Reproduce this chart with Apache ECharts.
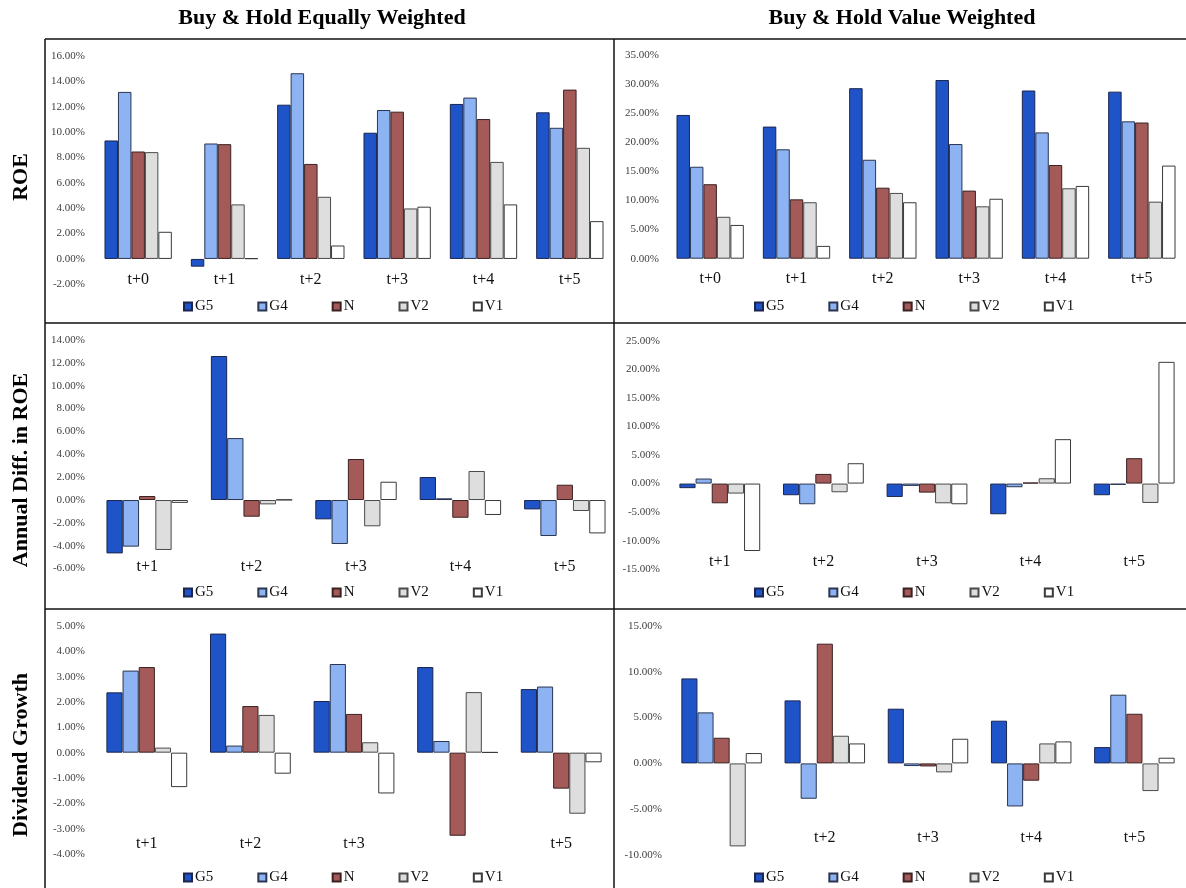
<!DOCTYPE html>
<html>
<head>
<meta charset="utf-8">
<script src="https://cdn.jsdelivr.net/npm/echarts@6/dist/echarts.min.js"></script>
<style>
html,body{margin:0;padding:0;background:#fff;}
#c{width:1186px;height:888px;}
</style>
</head>
<body>
<div id="c"></div>
<script>
// ---------- data ----------
const seriesNames = ['G5', 'G4', 'N', 'V2', 'V1'];
const catsROE = ['t+0', 't+1', 't+2', 't+3', 't+4', 't+5'];
const cats5 = ['t+1', 't+2', 't+3', 't+4', 't+5'];

// ROE, Buy & Hold Equally Weighted (%)
const roeEW_G5 = [9.34, -0.61, 12.16, 9.95, 12.22, 11.56];
const roeEW_G4 = [13.17, 9.10, 14.64, 11.74, 12.72, 10.34];
const roeEW_N  = [8.47, 9.05, 7.49, 11.61, 11.03, 13.35];
const roeEW_V2 = [8.42, 4.30, 4.90, 3.98, 7.65, 8.76];
const roeEW_V1 = [2.14, 0.05, 1.06, 4.12, 4.30, 2.98];

// ROE, Buy & Hold Value Weighted (%)
const roeVW_G5 = [24.7, 22.7, 29.3, 30.7, 28.9, 28.7];
const roeVW_G4 = [15.8, 18.8, 17.0, 19.7, 21.7, 23.6];
const roeVW_N  = [12.8, 10.2, 12.2, 11.7, 16.1, 23.4];
const roeVW_V2 = [7.2, 9.7, 11.3, 9.0, 12.1, 9.8];
const roeVW_V1 = [5.8, 2.2, 9.7, 10.3, 12.5, 16.0];

// Annual Diff. in ROE, Equally Weighted (%)
const adEW_G5 = [-4.67, 12.60, -1.69, 2.01, -0.82];
const adEW_G4 = [-4.08, 5.42, -3.85, 0.15, -3.15];
const adEW_N  = [0.35, -1.46, 3.59, -1.55, 1.34];
const adEW_V2 = [-4.37, -0.38, -2.30, 2.54, -0.96];
const adEW_V1 = [-0.25, 0.03, 1.60, -1.31, -2.92];

// Annual Diff. in ROE, Value Weighted (%)
const adVW_G5 = [-0.80, -2.04, -2.34, -5.37, -2.04];
const adVW_G4 = [0.88, -3.62, -0.41, -0.64, -0.23];
const adVW_N  = [-3.45, 1.69, -1.58, 0.18, 4.44];
const adVW_V2 = [-1.75, -1.52, -3.45, 0.93, -3.39];
const adVW_V1 = [-11.80, 3.56, -3.62, 7.77, 21.30];

// Dividend Growth, Equally Weighted (%)
const dgEW_G5 = [2.38, 4.70, 2.04, 3.38, 2.51];
const dgEW_G4 = [3.24, 0.28, 3.50, 0.46, 2.61];
const dgEW_N  = [3.38, 1.84, 1.53, -3.28, -1.42];
const dgEW_V2 = [0.20, 1.49, 0.41, 2.39, -2.41];
const dgEW_V1 = [-1.36, -0.83, -1.61, 0.02, -0.38];

// Dividend Growth, Value Weighted (%)
const dgVW_G5 = [9.28, 6.88, 5.97, 4.66, 1.78];
const dgVW_G4 = [5.57, -3.86, -0.29, -4.70, 7.50];
const dgVW_N  = [2.80, 13.07, -0.33, -1.89, 5.42];
const dgVW_V2 = [-9.06, 3.02, -0.98, 2.18, -3.02];
const dgVW_V1 = [1.13, 2.18, 2.69, 2.40, 0.62];

const colTitles = ['Buy & Hold Equally Weighted', 'Buy & Hold Value Weighted'];
const rowTitles = ['ROE', 'Annual Diff. in ROE', 'Dividend Growth'];

// ---------- layout / style ----------
const FONT = '"Liberation Serif", "Times New Roman", serif';
const colors = ['#1F54C8', '#8DB3F2', '#A35A58', '#DEDEDE', '#FFFFFF'];
const borderColors = ['#1B2550', '#2A3550', '#3A2222', '#4A4A4A', '#3A3A3A'];

const panels = [
  {cats: catsROE, data: [roeEW_G5, roeEW_G4, roeEW_N, roeEW_V2, roeEW_V1],
   left: 95, width: 518, top: 56, height: 228.3, min: -2, max: 16, interval: 2, lblMargin: -5, ylblMargin: 10,
   legendLeft: 183, legendTop: 299, hide: []},
  {cats: catsROE, data: [roeVW_G5, roeVW_G4, roeVW_N, roeVW_V2, roeVW_V1],
   left: 667, width: 518, top: 55, height: 203.7, min: 0, max: 35, interval: 5, lblMargin: 20.5, ylblMargin: 8,
   legendLeft: 754, legendTop: 299, hide: []},
  {cats: cats5, data: [adEW_G5, adEW_G4, adEW_N, adEW_V2, adEW_V1],
   left: 95, width: 522, top: 340, height: 228.6, min: -6, max: 14, interval: 2, lblMargin: -2, ylblMargin: 10,
   legendLeft: 183, legendTop: 585, hide: []},
  {cats: cats5, data: [adVW_G5, adVW_G4, adVW_N, adVW_V2, adVW_V1],
   left: 668, width: 522, top: 340.7, height: 228.6, min: -15, max: 25, interval: 5, lblMargin: -7.5, ylblMargin: 8,
   legendLeft: 754, legendTop: 585, hide: []},
  {cats: cats5, data: [dgEW_G5, dgEW_G4, dgEW_N, dgEW_V2, dgEW_V1],
   left: 95, width: 518, top: 626, height: 228, min: -4, max: 5, interval: 1, lblMargin: -10.5, ylblMargin: 10,
   legendLeft: 183, legendTop: 870, hide: ['t+4']},
  {cats: cats5, data: [dgVW_G5, dgVW_G4, dgVW_N, dgVW_V2, dgVW_V1],
   left: 670, width: 520, top: 626, height: 229, min: -10, max: 15, interval: 5, lblMargin: -17.5, ylblMargin: 8,
   legendLeft: 754, legendTop: 870, hide: ['t+1']}
];

const grid = [], xAxis = [], yAxis = [], series = [], legend = [];
panels.forEach((p, i) => {
  grid.push({left: p.left, top: p.top, width: p.width, height: p.height, containLabel: false});
  xAxis.push({
    type: 'category', gridIndex: i, position: 'bottom',
    data: p.cats.map(c => p.hide.indexOf(c) >= 0 ? {value: c, textStyle: {opacity: 0}} : c),
    axisLine: {show: false, onZero: false}, axisTick: {show: false}, splitLine: {show: false},
    axisLabel: {margin: p.lblMargin, verticalAlign: 'middle', fontFamily: FONT, fontSize: 16, color: '#111'},
    z: 0
  });
  yAxis.push({
    type: 'value', gridIndex: i, min: p.min, max: p.max, interval: p.interval,
    axisLine: {show: false}, axisTick: {show: false}, splitLine: {show: false},
    axisLabel: {margin: p.ylblMargin, fontFamily: FONT, fontSize: 11, color: '#404040',
      formatter: v => v.toFixed(2) + '%'}
  });
  seriesNames.forEach((name, s) => {
    series.push({
      type: 'bar', name: name, xAxisIndex: i, yAxisIndex: i,
      data: p.data[s], barGap: 0, barCategoryGap: '22%',
      itemStyle: {color: colors[s], borderColor: borderColors[s], borderWidth: 1},
      emphasis: {disabled: true}, z: 2
    });
  });
  legend.push({
    data: seriesNames, left: p.legendLeft, top: p.legendTop, orient: 'horizontal', padding: 0,
    itemWidth: 8, itemHeight: 8, itemGap: 44, icon: 'rect', selectedMode: false,
    textStyle: {fontFamily: FONT, fontSize: 15, color: '#111', padding: [0, 0, 0, -2]}
  });
});

const graphic = [];
// panel borders
const lineStyle = {stroke: '#111', lineWidth: 1.5};
[[45, 39, 1186, 39], [45, 323, 1186, 323], [45, 609, 1186, 609],
 [45, 39, 45, 888], [614, 39, 614, 888]].forEach(l => {
  graphic.push({type: 'line', shape: {x1: l[0], y1: l[1], x2: l[2], y2: l[3]}, style: lineStyle, silent: true});
});
// column titles
[[322, 18], [902, 18]].forEach((pos, i) => {
  graphic.push({type: 'text', x: pos[0], y: pos[1], silent: true,
    style: {text: colTitles[i], fontFamily: FONT, fontWeight: 'bold', fontSize: 22, fill: '#000',
      align: 'center', verticalAlign: 'middle'}});
});
// row titles (rotated)
[177, 470, 755].forEach((y, i) => {
  graphic.push({type: 'text', x: 21, y: y, rotation: Math.PI / 2, silent: true,
    style: {text: rowTitles[i], fontFamily: FONT, fontWeight: 'bold', fontSize: 22, fill: '#000',
      align: 'center', verticalAlign: 'middle'}});
});

const chart = echarts.init(document.getElementById('c'), null, {renderer: 'canvas'});
chart.setOption({
  backgroundColor: '#fff',
  animation: false,
  grid: grid, xAxis: xAxis, yAxis: yAxis, series: series, legend: legend, graphic: graphic
});
</script>
</body>
</html>
